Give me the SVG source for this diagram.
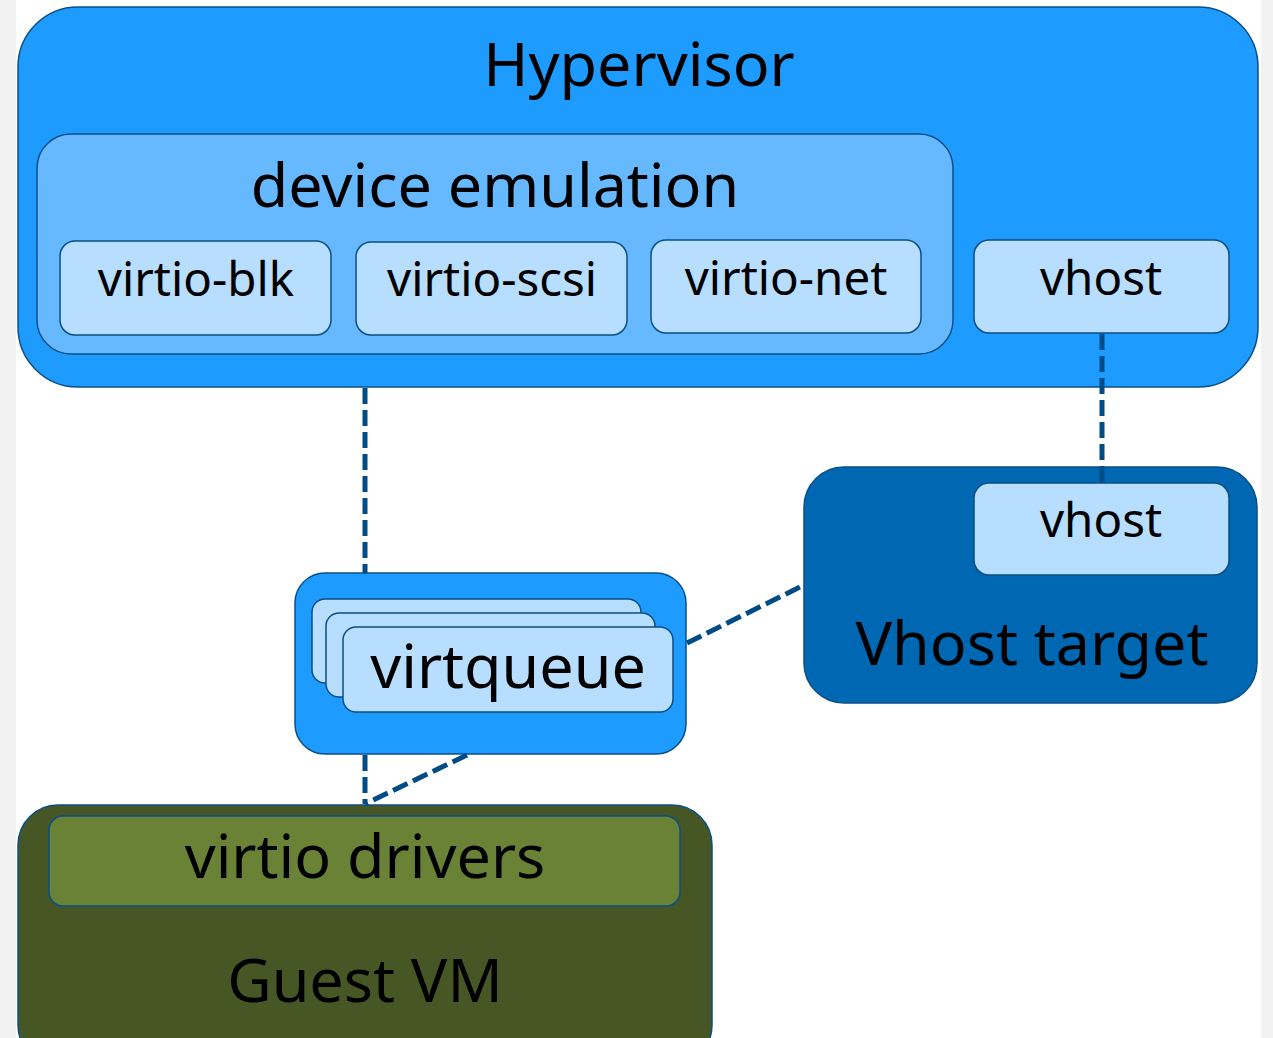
<svg xmlns="http://www.w3.org/2000/svg" width="1273" height="1038" viewBox="0 0 1273 1038">
<style>
text{font-family:"Noto Sans","Open Sans","DejaVu Sans",sans-serif;fill:#000;text-anchor:middle}
.bx{stroke:#0a4f87;stroke-width:1.5}
.hyp{fill:#1e9bff}
.dev{fill:#66b9ff}
.leaf{fill:#b7ddff}
.vt{fill:#0067b3}
.gvm{fill:#465625}
.drv{fill:#698236}
.c{stroke:#004c86;stroke-width:5;stroke-dasharray:16 6;fill:none}
.big{font-size:61px}
.mid{font-size:47.5px}
</style>
<rect x="0" y="0" width="1273" height="1038" fill="#f2f2f2"/>
<rect x="16" y="0" width="1245" height="1038" fill="#fff"/>
<g id="hypervisor">
<rect class="bx hyp" x="18" y="7" width="1240" height="380" rx="60"/>
<text class="big" x="639" y="86">Hypervisor</text>
</g>
<g id="device-emulation">
<rect class="bx dev" x="37" y="134" width="916" height="220" rx="34"/>
<text class="big" x="495" y="207">device emulation</text>
</g>
<g id="virtio-blk">
<rect class="bx leaf" x="60" y="241" width="271" height="94" rx="15"/>
<text class="mid" x="196" y="296">virtio-blk</text>
</g>
<g id="virtio-scsi">
<rect class="bx leaf" x="356" y="242" width="271" height="93" rx="15"/>
<text class="mid" x="492" y="296">virtio-scsi</text>
</g>
<g id="virtio-net">
<rect class="bx leaf" x="651" y="240" width="270" height="93" rx="15"/>
<text class="mid" x="786" y="295">virtio-net</text>
</g>
<g id="vhost-hyp">
<rect class="bx leaf" x="974" y="240" width="255" height="93" rx="15"/>
<text class="mid" x="1101" y="295">vhost</text>
</g>
<g id="vhost-target">
<rect class="bx vt" x="804" y="467" width="453" height="236" rx="40"/>
<text class="big" x="1032" y="665">Vhost target</text>
</g>
<g id="vhost-tgt">
<rect class="bx leaf" x="974" y="483" width="255" height="92" rx="15"/>
<text class="mid" x="1101" y="537">vhost</text>
</g>
<g id="virtqueue">
<rect class="bx hyp" x="295" y="573" width="391" height="181" rx="30"/>
<rect class="bx leaf" x="312" y="599" width="329" height="84" rx="13"/>
<rect class="bx leaf" x="326" y="613" width="329" height="84" rx="13"/>
<rect class="bx leaf" x="343" y="627" width="330" height="85" rx="13"/>
<text class="big" x="508" y="688">virtqueue</text>
</g>
<g id="guest-vm">
<rect class="bx gvm" x="18" y="805" width="694" height="260" rx="40"/>
<text class="big" x="365" y="1002">Guest VM</text>
</g>
<g id="virtio-drivers">
<rect class="bx drv" x="49" y="816" width="631" height="90" rx="14"/>
<text class="big" x="365" y="878">virtio drivers</text>
</g>
<g id="connectors">
<line class="c" x1="365" y1="388" x2="365" y2="573"/>
<line class="c" x1="1102" y1="334" x2="1102" y2="483"/>
<line class="c" x1="687" y1="643" x2="804" y2="585"/>
<line class="c" x1="365" y1="755" x2="365" y2="804"/>
<line class="c" x1="467" y1="755" x2="365" y2="804"/>
</g>
</svg>
